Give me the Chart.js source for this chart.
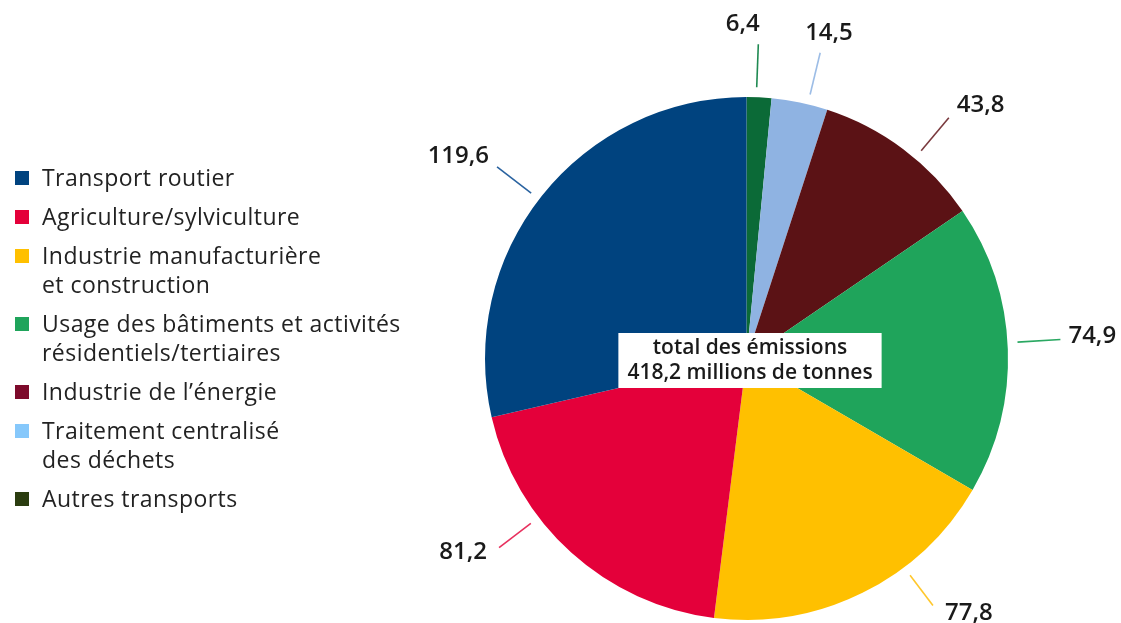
<!DOCTYPE html>
<html>
<head>
<meta charset="utf-8">
<script src="https://cdn.jsdelivr.net/npm/chart.js@4"></script>
<style>
  body { margin: 0; background: #fff; font-family: "Open Sans", sans-serif; }
  #wrap { position: relative; width: 1121px; height: 623px; }
  #legend { position: absolute; left: 15px; top: 163px; color: #222; font-size: 23px; letter-spacing: 0.45px; line-height: 29px; }
  .item { position: relative; padding-left: 27px; margin-bottom: 10px; }
  .box { position: absolute; left: 0; top: 8px; width: 14px; height: 14px; }
  canvas { position: absolute; left: 0; top: 0; }
</style>
</head>
<body>
<div id="wrap">
  <canvas id="pie" width="1121" height="623"></canvas>
  <div id="legend"></div>
</div>
<script>
// slices, clockwise from the top
const categories = [
  'Autres transports',
  'Traitement centralisé des déchets',
  'Industrie de l’énergie',
  'Usage des bâtiments et activités résidentiels/tertiaires',
  'Industrie manufacturière et construction',
  'Agriculture/sylviculture',
  'Transport routier'
];
const values = [6.4, 14.5, 43.8, 74.9, 77.8, 81.2, 119.6];
const valueLabels = ['6,4', '14,5', '43,8', '74,9', '77,8', '81,2', '119,6'];
const sliceColors = ['#0b6a37', '#8fb3e2', '#5b1215', '#1fa45b', '#ffc000', '#e4003a', '#00437f'];
const lineColors = ['#1f8a52', '#9dbde6', '#7a3a3e', '#2aa862', '#ffc72c', '#e8305e', '#2a63a0'];

// legend, in the order it is printed
const legendLines = [
  ['Transport routier'],
  ['Agriculture/sylviculture'],
  ['Industrie manufacturière', 'et construction'],
  ['Usage des bâtiments et activités', 'résidentiels/tertiaires'],
  ['Industrie de l’énergie'],
  ['Traitement centralisé', 'des déchets'],
  ['Autres transports']
];
const legendColors = ['#00437f', '#e4003a', '#ffc000', '#1fa45b', '#7d0a2b', '#86c8fb', '#2b3d10'];

const totalLines = ['total des émissions', '418,2 millions de tonnes'];

// leader line tweaks: angle nudge (deg), length past the rim, label x nudge
const leaderShift = [-0.6, 1.8, 3.2, -1.4, -10.7, 10.5, -1];
const leaderLen = [53, 53, 53, 53, 48, 50, 53];
const labelNudgeX = [-12, 10, 0, 0, 4, -4, 0];

const legendEl = document.getElementById('legend');
legendLines.forEach((lines, i) => {
  const div = document.createElement('div');
  div.className = 'item';
  div.innerHTML = '<span class="box" style="background:' + legendColors[i] + '"></span>' + lines.join('<br>');
  legendEl.appendChild(div);
});

const outsideLabels = {
  id: 'outsideLabels',
  afterDatasetsDraw(chart) {
    const ctx = chart.ctx;
    const arcs = chart.getDatasetMeta(0).data;
    ctx.save();
    arcs.forEach((arc, i) => {
      const { x, y, startAngle, endAngle, outerRadius } = arc.getProps(['x', 'y', 'startAngle', 'endAngle', 'outerRadius'], true);
      const a = (startAngle + endAngle) / 2 + leaderShift[i] * Math.PI / 180;
      const dx = Math.cos(a), dy = Math.sin(a);
      const r1 = outerRadius + 10, r2 = outerRadius + leaderLen[i];
      const ex = x + dx * r2, ey = y + dy * r2;
      ctx.strokeStyle = lineColors[i];
      ctx.lineWidth = 1.6;
      ctx.beginPath();
      ctx.moveTo(x + dx * r1, y + dy * r1);
      ctx.lineTo(ex, ey);
      ctx.stroke();

      ctx.fillStyle = '#1a1a1a';
      ctx.font = '600 24px "Open Sans"';
      ctx.textBaseline = 'middle';
      const tx = ex + labelNudgeX[i];
      if (Math.abs(dx) < 0.35) {
        ctx.textAlign = 'center';
        ctx.fillText(valueLabels[i], tx + dx * 12 - 4, ey - 20);
      } else if (dx > 0) {
        ctx.textAlign = 'left';
        ctx.fillText(valueLabels[i], tx + 8, ey - 3 + dy * 13);
      } else {
        ctx.textAlign = 'right';
        ctx.fillText(valueLabels[i], tx - 8, ey - 3 + dy * 13);
      }
    });

    // total box in the middle
    const cx = arcs[0].x + 3.5, cy = arcs[0].y + 2;
    ctx.font = '600 21px "Open Sans"';
    const w = Math.max(...totalLines.map(t => ctx.measureText(t).width)) + 18;
    const h = 55;
    ctx.fillStyle = '#fff';
    ctx.fillRect(cx - w / 2, cy - h / 2, w, h);
    ctx.fillStyle = '#1a1a1a';
    ctx.textAlign = 'center';
    ctx.textBaseline = 'middle';
    ctx.fillText(totalLines[0], cx, cy - 12);
    ctx.fillText(totalLines[1], cx, cy + 13);
    ctx.restore();
  }
};

new Chart(document.getElementById('pie'), {
  type: 'pie',
  data: {
    labels: categories,
    datasets: [{
      data: values,
      backgroundColor: sliceColors,
      borderWidth: 0
    }]
  },
  options: {
    responsive: false,
    animation: false,
    layout: { padding: { left: 485, right: 113, top: 97, bottom: 3 } },
    plugins: {
      legend: { display: false },
      tooltip: { enabled: false }
    }
  },
  plugins: [outsideLabels]
});
</script>
</body>
</html>
